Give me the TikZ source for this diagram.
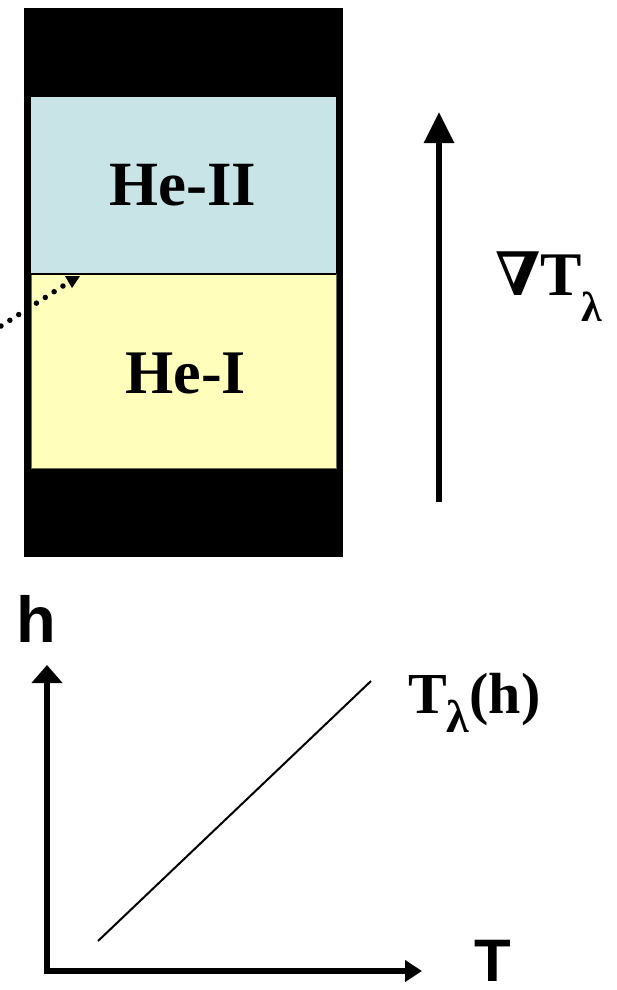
\documentclass[tikz,border=0pt]{standalone}
\usepackage{fontspec}
\setmainfont{Liberation Serif}
\newfontfamily\sansb{Liberation Sans}
\newfontfamily\dvs{DejaVu Serif}
\usetikzlibrary{arrows.meta}
\definecolor{heii}{RGB}{200,228,231}
\definecolor{hei}{RGB}{255,255,187}
\definecolor{heiedge}{RGB}{110,110,70}
\begin{document}
\begin{tikzpicture}[x=1pt,y=-1pt,
  lbl/.style={inner sep=0pt, anchor=base west},
  helbl/.style={inner sep=0pt, anchor=base, font=\bfseries\fontsize{63}{63}\selectfont},
  thick arrow/.style={line width=6pt, -{Triangle[width=29pt,length=31pt]}},
  axis/.style={line width=6pt, {Triangle[width=30pt,length=18pt]}-{Triangle[width=21pt,length=17pt]}}]
\useasboundingbox (0,0) rectangle (616,990);
% tube
\fill[black] (24,8) rectangle (343,557);
\fill[heii] (31,97) rectangle (336,274);
\filldraw[fill=hei, draw=heiedge, line width=0.8pt] (31,274) rectangle (336,468);
\coordinate (divl) at (31,274);
\coordinate (divr) at (336,274);
\draw[line width=2pt] (divl) -- (divr);
\node[helbl] (heII) at (183,205) {He-II};
\node[helbl, font=\bfseries\fontsize{62}{62}\selectfont] (heI) at (185.5,393) {He-I};
% dotted pointer
\coordinate (dstart) at (1,326);
\coordinate (dend) at (63,286);
\draw[line width=5.5pt, line cap=round, dash pattern=on 0pt off 10.54pt] (dstart) -- (dend);
\coordinate (tipa) at (65,276);
\coordinate (tipb) at (80,276);
\coordinate (tipc) at (72,288);
\fill (tipa) -- (tipb) -- (tipc) -- cycle;
% gradient arrow
\coordinate (gb) at (439,502);
\coordinate (gt) at (439,112);
\draw[thick arrow] (gb) -- (gt);
\node[lbl, font=\bfseries\fontsize{62}{62}\selectfont] (grad) at (495,295)
  {{\dvs\fontsize{60}{60}\selectfont ∇}T\raisebox{-26pt}{\fontsize{42}{42}\selectfont λ}};
% graph
\coordinate (ytop) at (47,665);
\coordinate (origin) at (47,971);
\coordinate (xend) at (422,971);
\draw[axis] (ytop) -- (origin) -- (xend);
\coordinate (la) at (98,941);
\coordinate (lb) at (371,681);
\draw[line width=2pt] (la) -- (lb);
\node[lbl, font=\sansb\bfseries\fontsize{65}{65}\selectfont] (hlab) at (16,642) {h};
\node[lbl, font=\sansb\bfseries\fontsize{60}{60}\selectfont] (tlab) at (474,981) {T};
\node[lbl, font=\bfseries\fontsize{58}{58}\selectfont] (tlh) at (408,713)
  {T\raisebox{-19pt}{\fontsize{46}{46}\selectfont λ}(h)};
\end{tikzpicture}
\end{document}
